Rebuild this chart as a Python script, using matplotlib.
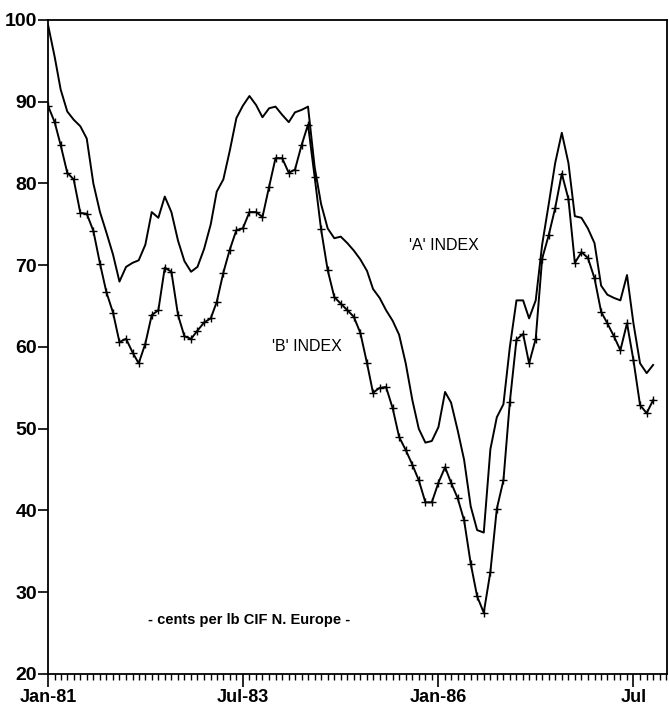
import numpy as np
import pandas as pd
import matplotlib
matplotlib.use('Agg')
import matplotlib.pyplot as plt
import matplotlib.dates as mdates

# monthly prices, cents per lb CIF N. Europe, Jan-81 onwards
a_index = [99.4, 95.5, 91.5, 88.8, 87.8, 87.0, 85.5, 80.0, 76.5, 74.0,
           71.3, 68.0, 69.8, 70.3, 70.6, 72.5, 76.5, 75.8, 78.4, 76.5,
           73.0, 70.5, 69.2, 69.8, 72.0, 75.0, 79.0, 80.5, 84.0, 88.0,
           89.5, 90.7, 89.6, 88.1, 89.2, 89.4, 88.4, 87.5, 88.7, 89.0,
           89.4, 82.0, 77.5, 74.5, 73.3, 73.5, 72.7, 71.8, 70.7, 69.3,
           67.1, 66.0, 64.5, 63.2, 61.5, 58.0, 53.5, 50.0, 48.3, 48.5,
           50.2, 54.5, 53.2, 49.8, 46.2, 40.5, 37.6, 37.3, 47.5, 51.4,
           53.0, 60.0, 65.7, 65.7, 63.5, 65.7, 72.5, 77.5, 82.5, 86.2,
           82.5, 76.0, 75.8, 74.5, 72.7, 67.5, 66.4, 66.0, 65.7, 68.8,
           62.9, 58.0, 56.8, 57.8]

b_index = [89.5, 87.5, 84.7, 81.3, 80.5, 76.4, 76.3, 74.2, 70.2, 66.7,
           64.2, 60.6, 61.0, 59.3, 58.0, 60.4, 63.9, 64.5, 69.7, 69.2,
           63.9, 61.3, 61.0, 62.0, 63.0, 63.5, 65.5, 69.1, 71.9, 74.3,
           74.5, 76.5, 76.5, 75.9, 79.6, 83.1, 83.1, 81.3, 81.7, 84.7,
           87.2, 80.8, 74.4, 69.4, 66.1, 65.3, 64.5, 63.7, 61.7, 58.0,
           54.4, 55.0, 55.1, 52.5, 49.0, 47.4, 45.6, 43.7, 41.0, 41.0,
           43.4, 45.3, 43.4, 41.5, 38.8, 33.5, 29.5, 27.5, 32.5, 40.2,
           43.7, 53.3, 60.9, 61.6, 58.0, 61.0, 70.8, 73.7, 77.0, 81.2,
           78.1, 70.3, 71.6, 70.9, 68.4, 64.3, 62.9, 61.3, 59.6, 62.9,
           58.4, 52.9, 51.9, 53.5]

months = pd.date_range('1981-01-01', periods=len(a_index), freq='MS')

tick_dates = pd.to_datetime(['1981-01-01', '1983-07-01', '1986-01-01', '1988-07-01'])
tick_labels = ['Jan-81', 'Jul-83', 'Jan-86', 'Jul']

plt.rcParams['font.family'] = ['Liberation Sans', 'DejaVu Sans']

fig = plt.figure(figsize=(6.69, 7.13), dpi=100)
ax = fig.add_axes([0.0718, 0.0547, 0.9252, 0.9173])

ax.plot(months, a_index, color='black', lw=1.4)
ax.plot(months, b_index, color='black', lw=1.4, marker='+', ms=6, mew=1.0)

ax.set_ylim(20, 100)
ax.set_yticks(np.arange(20, 101, 10))
ax.set_xlim(pd.Timestamp('1981-01-01'), pd.Timestamp('1988-12-05'))
ax.set_xticks(tick_dates)
ax.set_xticklabels(tick_labels)
ax.xaxis.set_minor_locator(mdates.MonthLocator())

ax.tick_params(axis='y', direction='out', length=7, width=1.2, pad=1,
               labelsize=14)
ax.tick_params(axis='x', which='major', direction='out', length=9, width=1.2,
               pad=2, labelsize=13)
ax.tick_params(axis='x', which='minor', direction='out', length=4, width=1.0)
for lab in ax.get_xticklabels() + ax.get_yticklabels():
    lab.set_fontweight('bold')
for sp in ax.spines.values():
    sp.set_linewidth(1.3)

# series labels and unit note
ax.text(pd.Timestamp('1985-08-15'), 72.4, "'A' INDEX", fontsize=11.5,
        va='center', ha='left')
ax.text(pd.Timestamp('1983-11-15'), 60.0, "'B' INDEX", fontsize=11.5,
        va='center', ha='left')
ax.text(pd.Timestamp('1983-08-01'), 26.6, '- cents per lb CIF N. Europe -',
        fontsize=10.5, fontweight='bold', va='center', ha='center')

plt.savefig('out.png', dpi=100)
